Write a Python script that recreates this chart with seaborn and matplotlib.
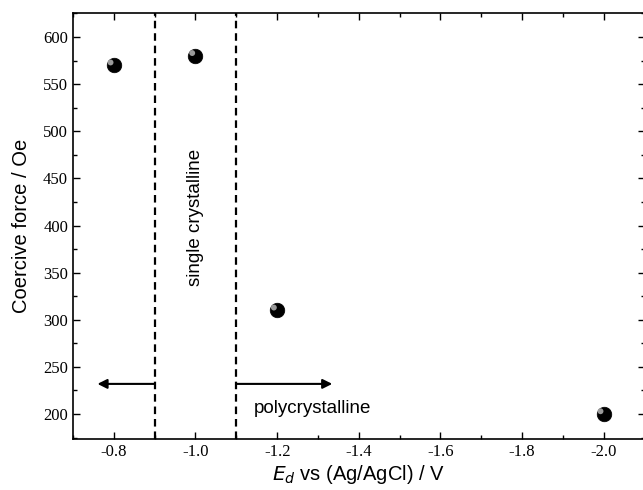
import numpy as np
import pandas as pd
import seaborn as sns
import matplotlib
matplotlib.use('Agg')
import matplotlib.pyplot as plt
from matplotlib.ticker import MultipleLocator

# deposition potential vs coercive force
potential = [-0.8, -1.0, -1.2, -2.0]
coercive = [570, 580, 310, 200]
boundaries = [-0.9, -1.1]

df = pd.DataFrame({'E': potential, 'Hc': coercive})

sns.set_style('ticks')
plt.rcParams['font.family'] = ['Liberation Sans', 'DejaVu Sans']
plt.rcParams['text.color'] = 'black'
plt.rcParams['axes.labelcolor'] = 'black'
plt.rcParams['xtick.color'] = 'black'
plt.rcParams['ytick.color'] = 'black'
plt.rcParams['axes.edgecolor'] = 'black'

fig = plt.figure(figsize=(6.43, 4.9), dpi=100)
ax = fig.add_axes([0.1135, 0.104, 0.889, 0.8695])

# sphere-ish markers: dark body plus small highlight
sns.scatterplot(data=df, x='E', y='Hc', ax=ax, s=110, color='black',
                edgecolor='black', linewidth=0.5, zorder=3, legend=False)
ax.scatter(df['E'] + 0.008, df['Hc'] + 3, s=18, color='#9a9a9a',
           edgecolor='none', zorder=5)

for b in boundaries:
    ax.axvline(b, color='black', ls=(0, (3.4, 2.2)), lw=1.6, zorder=2)

ax.annotate('', xy=(-0.76, 232), xytext=(boundaries[0], 232),
            arrowprops=dict(arrowstyle='-|>', color='black', lw=1.5,
                            mutation_scale=14, shrinkA=0, shrinkB=0))
ax.annotate('', xy=(-1.335, 232), xytext=(boundaries[1], 232),
            arrowprops=dict(arrowstyle='-|>', color='black', lw=1.5,
                            mutation_scale=14, shrinkA=0, shrinkB=0))

ax.text(-1.0, 409, 'single crystalline', rotation=90, ha='center',
        va='center', fontsize=13.5)
ax.text(-1.144, 206, 'polycrystalline', ha='left', va='center', fontsize=13.5)

ax.set_xlim(-0.7, -2.1)
ax.set_ylim(173.5, 625.5)
ax.xaxis.set_minor_locator(MultipleLocator(0.1))
ax.yaxis.set_minor_locator(MultipleLocator(25))
ax.set_yticks(np.arange(200, 601, 50))
xt = np.arange(-0.8, -2.01, -0.2)
ax.set_xticks(xt)
ax.set_xticklabels([f'{t:.1f}' for t in xt])

ax.tick_params(which='both', direction='in', top=True, right=True,
               labelfontfamily='Liberation Serif', labelsize=12)
ax.tick_params(which='major', length=5, width=1)
ax.tick_params(which='minor', length=3, width=1)
for sp in ax.spines.values():
    sp.set_linewidth(1.2)

ax.set_xlabel('$E_d$ vs (Ag/AgCl) / V', fontsize=14.5, labelpad=2)
ax.set_ylabel('Coercive force / Oe', fontsize=14.5, labelpad=9)

fig.savefig('out.png', dpi=100)
